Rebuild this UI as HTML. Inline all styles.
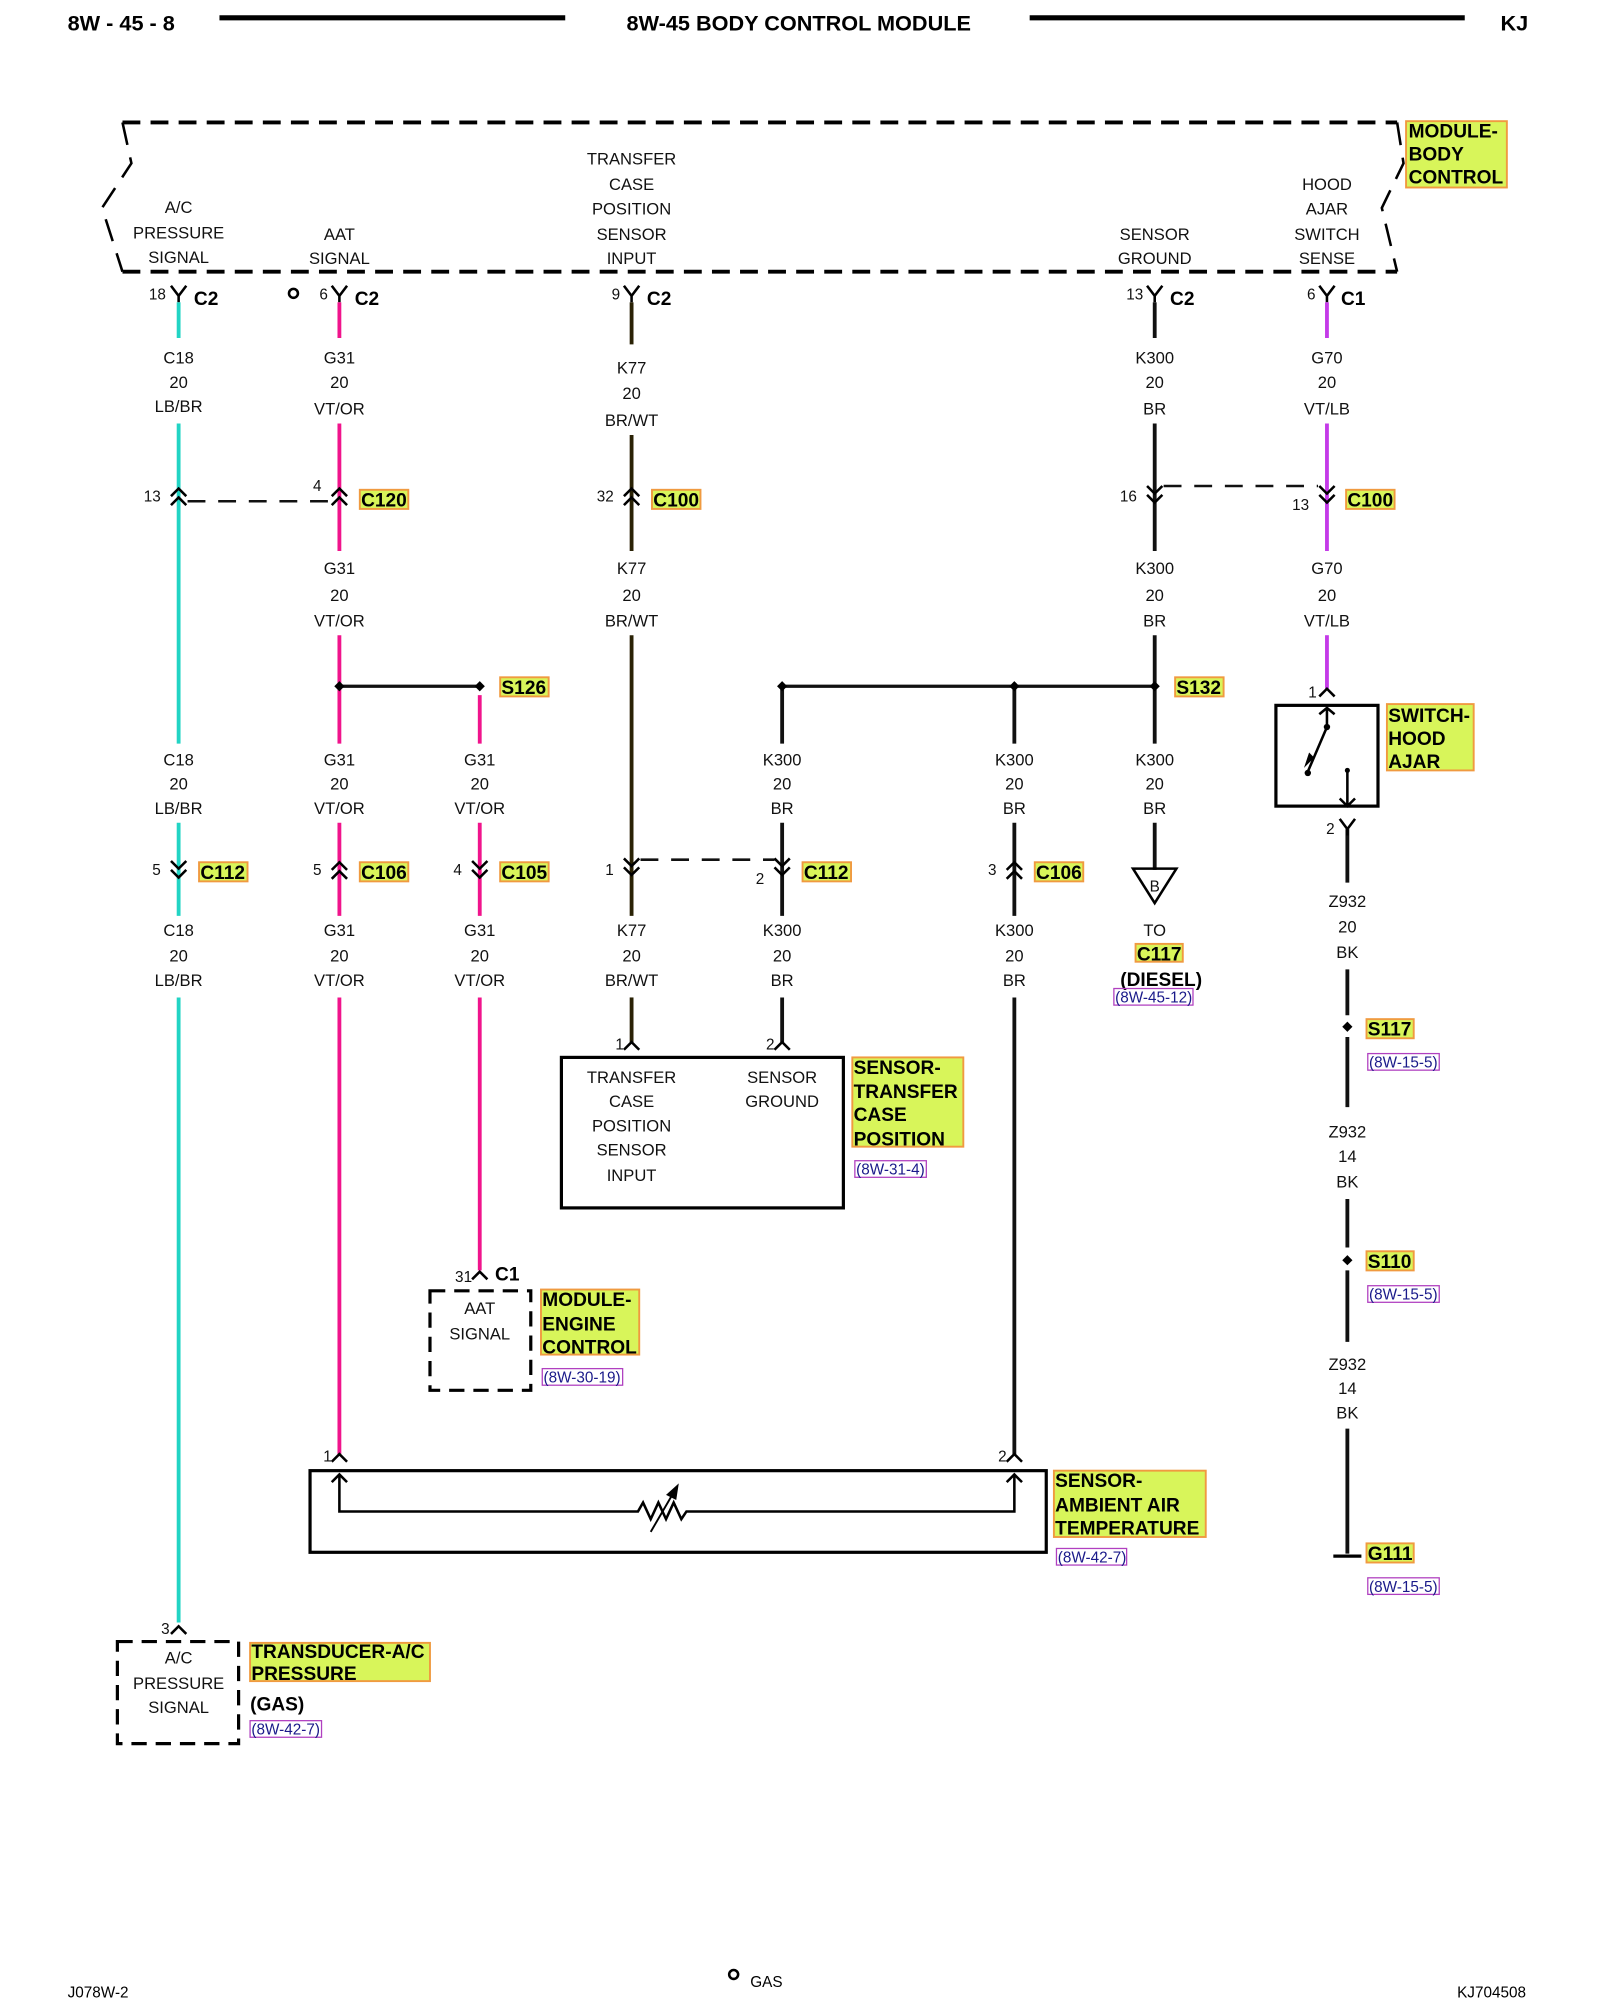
<!DOCTYPE html>
<html><head><meta charset="utf-8"><style>
html,body{margin:0;padding:0;background:#fff;width:1600px;height:2000px;overflow:hidden}
svg text{font-family:"Liberation Sans",sans-serif}
.t{font-size:13px;text-anchor:middle;fill:#111}
.n{font-size:12px;text-anchor:end;fill:#111}
.b{font-size:15px;font-weight:bold;fill:#000}
.g{font-size:15px;font-weight:bold;fill:#000}
.lk{font-size:12px;fill:#1a1a8a}
</style></head><body>
<svg width="1600" height="2000" viewBox="0 0 1254 1568" preserveAspectRatio="none" xmlns="http://www.w3.org/2000/svg">
<defs>
<path id="yf" d="M-6,-7 L0,1 L6,-7 M0,1 V6" fill="none" stroke="#000" stroke-width="2"/>
<path id="u2" d="M-6,-2 L0,-8 L6,-2 M-6,5 L0,-1 L6,5" fill="none" stroke="#000" stroke-width="2"/>
<path id="d2" d="M-6,-5 L0,1 L6,-5 M-6,2 L0,8 L6,2" fill="none" stroke="#000" stroke-width="2"/>
<path id="u1" d="M-6,4 L0,-2 L6,4" fill="none" stroke="#000" stroke-width="2"/>
</defs>
<text x="53" y="24" class="b" style="font-size:17px">8W - 45 - 8</text>
<line x1="172" y1="14" x2="443" y2="14" stroke="#000" stroke-width="4"/>
<text x="626" y="24" class="b" text-anchor="middle" style="font-size:17px">8W-45 BODY CONTROL MODULE</text>
<line x1="807" y1="14" x2="1148" y2="14" stroke="#000" stroke-width="4"/>
<text x="1176" y="24" class="b" style="font-size:17px">KJ</text>

<g fill="none" stroke="#000" stroke-width="3" stroke-dasharray="14,8">
<line x1="96" y1="96" x2="1095" y2="96"/>
<line x1="96" y1="213" x2="1095" y2="213"/>
<polyline points="96,96 103,128 80,163 96,213" stroke-dasharray="18,10" stroke-width="2"/>
<polyline points="1095,96 1100,128 1083,163 1095,213" stroke-dasharray="18,10" stroke-width="2"/>
</g>
<g class="t">
<text x="140" y="167" class="t">A/C</text><text x="140" y="187" class="t">PRESSURE</text><text x="140" y="206" class="t">SIGNAL</text>
<text x="266" y="188" class="t">AAT</text><text x="266" y="207" class="t">SIGNAL</text>
<text x="495" y="129" class="t">TRANSFER</text><text x="495" y="149" class="t">CASE</text><text x="495" y="168" class="t">POSITION</text><text x="495" y="188" class="t">SENSOR</text><text x="495" y="207" class="t">INPUT</text>
<text x="905" y="188" class="t">SENSOR</text><text x="905" y="207" class="t">GROUND</text>
<text x="1040" y="149" class="t">HOOD</text><text x="1040" y="168" class="t">AJAR</text><text x="1040" y="188" class="t">SWITCH</text><text x="1040" y="207" class="t">SENSE</text>
</g>
<rect x="1102" y="95" width="79" height="52" fill="#d8f55a" stroke="#f09a40" stroke-width="1.5"/>
<text x="1104" y="108" class="g">MODULE-</text><text x="1104" y="126" class="g">BODY</text><text x="1104" y="144" class="g">CONTROL</text>

<g>
<use href="#yf" x="140" y="231"/><text x="130" y="235" class="n">18</text><text x="152" y="239" class="g">C2</text>
<circle cx="230" cy="230" r="3.5" fill="none" stroke="#000" stroke-width="2"/>
<use href="#yf" x="266" y="231"/><text x="257" y="235" class="n">6</text><text x="278" y="239" class="g">C2</text>
<use href="#yf" x="495" y="231"/><text x="486" y="235" class="n">9</text><text x="507" y="239" class="g">C2</text>
<use href="#yf" x="905" y="231"/><text x="896" y="235" class="n">13</text><text x="917" y="239" class="g">C2</text>
<use href="#yf" x="1040" y="231"/><text x="1031" y="235" class="n">6</text><text x="1051" y="239" class="g">C1</text>
</g>

<g stroke-width="3" fill="none">
<g stroke="#22d4c4"><line x1="140" y1="237" x2="140" y2="265"/><line x1="140" y1="332" x2="140" y2="583"/><line x1="140" y1="645" x2="140" y2="718"/><line x1="140" y1="782" x2="140" y2="1272"/></g>
<g stroke="#f0148c"><line x1="266" y1="237" x2="266" y2="265"/><line x1="266" y1="332" x2="266" y2="432"/><line x1="266" y1="498" x2="266" y2="583"/><line x1="266" y1="645" x2="266" y2="718"/><line x1="266" y1="782" x2="266" y2="1140"/>
<line x1="376" y1="545" x2="376" y2="583"/><line x1="376" y1="645" x2="376" y2="718"/><line x1="376" y1="782" x2="376" y2="996"/></g>
<g stroke="#2a2205"><line x1="495" y1="237" x2="495" y2="270"/><line x1="495" y1="341" x2="495" y2="432"/><line x1="495" y1="498" x2="495" y2="718"/><line x1="495" y1="782" x2="495" y2="817"/></g>
<g stroke="#111"><line x1="613" y1="538" x2="613" y2="583"/><line x1="613" y1="645" x2="613" y2="718"/><line x1="613" y1="782" x2="613" y2="817"/>
<line x1="795" y1="538" x2="795" y2="583"/><line x1="795" y1="645" x2="795" y2="718"/><line x1="795" y1="782" x2="795" y2="1140"/>
<line x1="905" y1="237" x2="905" y2="265"/><line x1="905" y1="332" x2="905" y2="432"/><line x1="905" y1="498" x2="905" y2="583"/><line x1="905" y1="645" x2="905" y2="682"/>
<line x1="1056" y1="650" x2="1056" y2="692"/><line x1="1056" y1="760" x2="1056" y2="796"/><line x1="1056" y1="813" x2="1056" y2="868"/><line x1="1056" y1="940" x2="1056" y2="978"/><line x1="1056" y1="996" x2="1056" y2="1052"/><line x1="1056" y1="1120" x2="1056" y2="1218"/>
</g>
<g stroke="#c43ae8"><line x1="1040" y1="237" x2="1040" y2="265"/><line x1="1040" y1="332" x2="1040" y2="432"/><line x1="1040" y1="498" x2="1040" y2="540"/></g>
<g stroke="#111" stroke-width="2.5"><line x1="266" y1="538" x2="376" y2="538"/><line x1="613" y1="538" x2="905" y2="538"/></g>
<g stroke="#111" stroke-width="2" stroke-dasharray="14,10"><line x1="147" y1="393" x2="258" y2="393"/><line x1="502" y1="674" x2="607" y2="674"/><line x1="912" y1="381" x2="1033" y2="381"/></g>
</g>
<g fill="#000"><path d="M266,534 l4,4 l-4,4 l-4,-4z"/><path d="M376,534 l4,4 l-4,4 l-4,-4z"/><path d="M613,534 l4,4 l-4,4 l-4,-4z"/><path d="M795,534 l4,4 l-4,4 l-4,-4z"/><path d="M905,534 l4,4 l-4,4 l-4,-4z"/>
<path d="M1056,801 l4,4 l-4,4 l-4,-4z"/><path d="M1056,984 l4,4 l-4,4 l-4,-4z"/></g>

<g class="t">
<text x="140" y="285" class="t">C18</text><text x="140" y="304" class="t">20</text><text x="140" y="323" class="t">LB/BR</text>
<text x="266" y="285" class="t">G31</text><text x="266" y="304" class="t">20</text><text x="266" y="325" class="t">VT/OR</text>
<text x="495" y="293" class="t">K77</text><text x="495" y="313" class="t">20</text><text x="495" y="334" class="t">BR/WT</text>
<text x="905" y="285" class="t">K300</text><text x="905" y="304" class="t">20</text><text x="905" y="325" class="t">BR</text>
<text x="1040" y="285" class="t">G70</text><text x="1040" y="304" class="t">20</text><text x="1040" y="325" class="t">VT/LB</text>

<text x="266" y="450" class="t">G31</text><text x="266" y="471" class="t">20</text><text x="266" y="491" class="t">VT/OR</text>
<text x="495" y="450" class="t">K77</text><text x="495" y="471" class="t">20</text><text x="495" y="491" class="t">BR/WT</text>
<text x="905" y="450" class="t">K300</text><text x="905" y="471" class="t">20</text><text x="905" y="491" class="t">BR</text>
<text x="1040" y="450" class="t">G70</text><text x="1040" y="471" class="t">20</text><text x="1040" y="491" class="t">VT/LB</text>

<text x="140" y="600" class="t">C18</text><text x="140" y="619" class="t">20</text><text x="140" y="638" class="t">LB/BR</text>
<text x="266" y="600" class="t">G31</text><text x="266" y="619" class="t">20</text><text x="266" y="638" class="t">VT/OR</text>
<text x="376" y="600" class="t">G31</text><text x="376" y="619" class="t">20</text><text x="376" y="638" class="t">VT/OR</text>
<text x="613" y="600" class="t">K300</text><text x="613" y="619" class="t">20</text><text x="613" y="638" class="t">BR</text>
<text x="795" y="600" class="t">K300</text><text x="795" y="619" class="t">20</text><text x="795" y="638" class="t">BR</text>
<text x="905" y="600" class="t">K300</text><text x="905" y="619" class="t">20</text><text x="905" y="638" class="t">BR</text>

<text x="140" y="734" class="t">C18</text><text x="140" y="754" class="t">20</text><text x="140" y="773" class="t">LB/BR</text>
<text x="266" y="734" class="t">G31</text><text x="266" y="754" class="t">20</text><text x="266" y="773" class="t">VT/OR</text>
<text x="376" y="734" class="t">G31</text><text x="376" y="754" class="t">20</text><text x="376" y="773" class="t">VT/OR</text>
<text x="495" y="734" class="t">K77</text><text x="495" y="754" class="t">20</text><text x="495" y="773" class="t">BR/WT</text>
<text x="613" y="734" class="t">K300</text><text x="613" y="754" class="t">20</text><text x="613" y="773" class="t">BR</text>
<text x="795" y="734" class="t">K300</text><text x="795" y="754" class="t">20</text><text x="795" y="773" class="t">BR</text>

<text x="1056" y="711" class="t">Z932</text><text x="1056" y="731" class="t">20</text><text x="1056" y="751" class="t">BK</text>
<text x="1056" y="892" class="t">Z932</text><text x="1056" y="911" class="t">14</text><text x="1056" y="931" class="t">BK</text>
<text x="1056" y="1074" class="t">Z932</text><text x="1056" y="1093" class="t">14</text><text x="1056" y="1112" class="t">BK</text>
</g>

<use href="#u2" x="140" y="391"/><text x="126" y="393" class="n">13</text>
<use href="#u2" x="266" y="391"/><text x="252" y="385" class="n">4</text>
<use href="#u2" x="495" y="391"/><text x="481" y="393" class="n">32</text>
<use href="#d2" x="905" y="386"/><text x="891" y="393" class="n">16</text>
<use href="#d2" x="1040" y="386"/><text x="1026" y="400" class="n">13</text>
<use href="#d2" x="140" y="680"/><text x="126" y="686" class="n">5</text>
<use href="#u2" x="266" y="684"/><text x="252" y="686" class="n">5</text>
<use href="#d2" x="376" y="680"/><text x="362" y="686" class="n">4</text>
<use href="#d2" x="495" y="678"/><text x="481" y="686" class="n">1</text>
<use href="#d2" x="613" y="678"/><text x="599" y="693" class="n">2</text>
<use href="#u2" x="795" y="684"/><text x="781" y="686" class="n">3</text>

<g stroke="#f09a40" stroke-width="1.5" fill="#d8f55a">
<rect x="282" y="384" width="38" height="15"/><rect x="511" y="384" width="38" height="15"/><rect x="1055" y="384" width="38" height="15"/>
<rect x="392" y="531" width="38" height="15"/><rect x="921" y="531" width="38" height="15"/>
<rect x="156" y="676" width="38" height="15"/><rect x="282" y="676" width="38" height="15"/><rect x="392" y="676" width="38" height="15"/><rect x="629" y="676" width="38" height="15"/><rect x="811" y="676" width="38" height="15"/>
<rect x="890" y="740" width="37" height="14"/>
<rect x="1071" y="799" width="37" height="15"/><rect x="1071" y="981" width="37" height="15"/><rect x="1071" y="1210" width="37" height="15"/>
<rect x="1087" y="552" width="68" height="52"/>
<rect x="668" y="829" width="87" height="70"/>
<rect x="424" y="1011" width="77" height="51"/>
<rect x="826" y="1153" width="119" height="52"/>
<rect x="196" y="1288" width="141" height="30"/>
</g>
<g class="g">
<text x="283" y="397" class="g">C120</text><text x="512" y="397" class="g">C100</text><text x="1056" y="397" class="g">C100</text>
<text x="393" y="544" class="g">S126</text><text x="922" y="544" class="g">S132</text>
<text x="157" y="689" class="g">C112</text><text x="283" y="689" class="g">C106</text><text x="393" y="689" class="g">C105</text><text x="630" y="689" class="g">C112</text><text x="812" y="689" class="g">C106</text>
<text x="891" y="753" class="g">C117</text>
<text x="1072" y="812" class="g">S117</text><text x="1072" y="994" class="g">S110</text><text x="1072" y="1223" class="g">G111</text>
<text x="1088" y="566" class="g">SWITCH-</text><text x="1088" y="584" class="g">HOOD</text><text x="1088" y="602" class="g">AJAR</text>
<text x="669" y="842" class="g">SENSOR-</text><text x="669" y="861" class="g">TRANSFER</text><text x="669" y="879" class="g">CASE</text><text x="669" y="898" class="g">POSITION</text>
<text x="425" y="1024" class="g">MODULE-</text><text x="425" y="1043" class="g">ENGINE</text><text x="425" y="1061" class="g">CONTROL</text>
<text x="827" y="1166" class="g">SENSOR-</text><text x="827" y="1185" class="g">AMBIENT AIR</text><text x="827" y="1203" class="g">TEMPERATURE</text>
<text x="197" y="1300" class="g">TRANSDUCER-A/C</text><text x="197" y="1317" class="g">PRESSURE</text>
<text x="196" y="1341" class="g">(GAS)</text>
<text x="878" y="773" class="g">(DIESEL)</text>
</g>
<g fill="none" stroke="#b040c0" stroke-width="1">
<rect x="873" y="775" width="62" height="13"/><rect x="670" y="910" width="56" height="13"/><rect x="425" y="1073" width="63" height="13"/>
<rect x="828" y="1214" width="55" height="13"/><rect x="196" y="1349" width="56" height="13"/>
<rect x="1072" y="826" width="56" height="13"/><rect x="1072" y="1008" width="56" height="13"/><rect x="1072" y="1237" width="56" height="13"/>
</g>
<g class="lk">
<text x="874" y="786" class="lk">(8W-45-12)</text><text x="671" y="921" class="lk">(8W-31-4)</text><text x="426" y="1084" class="lk">(8W-30-19)</text>
<text x="829" y="1225" class="lk">(8W-42-7)</text><text x="197" y="1360" class="lk">(8W-42-7)</text>
<text x="1073" y="837" class="lk">(8W-15-5)</text><text x="1073" y="1019" class="lk">(8W-15-5)</text><text x="1073" y="1248" class="lk">(8W-15-5)</text>
</g>

<path d="M888,681 L922,681 L905,708 Z" fill="none" stroke="#000" stroke-width="2"/>
<text x="905" y="699" class="t" style="font-size:12px">B</text>
<text x="905" y="734" class="t">TO</text>

<use href="#u1" x="495" y="819"/><text x="489" y="823" class="n">1</text>
<use href="#u1" x="613" y="819"/><text x="607" y="823" class="n">2</text>
<rect x="440" y="829" width="221" height="118" fill="none" stroke="#000" stroke-width="2.5"/>
<g class="t"><text x="495" y="849" class="t">TRANSFER</text><text x="495" y="868" class="t">CASE</text><text x="495" y="887" class="t">POSITION</text><text x="495" y="906" class="t">SENSOR</text><text x="495" y="926" class="t">INPUT</text>
<text x="613" y="849" class="t">SENSOR</text><text x="613" y="868" class="t">GROUND</text></g>

<use href="#u1" x="376" y="999"/><text x="370" y="1005" class="n">31</text><text x="388" y="1004" class="g">C1</text>
<rect x="337" y="1012" width="79" height="78" fill="none" stroke="#000" stroke-width="2.5" stroke-dasharray="12,7"/>
<text x="376" y="1030" class="t">AAT</text><text x="376" y="1050" class="t">SIGNAL</text>

<use href="#u1" x="266" y="1142"/><text x="260" y="1146" class="n">1</text>
<use href="#u1" x="795" y="1142"/><text x="789" y="1146" class="n">2</text>
<rect x="243" y="1153" width="577" height="64" fill="none" stroke="#000" stroke-width="2.5"/>
<use href="#u1" x="266" y="1158"/><use href="#u1" x="795" y="1158"/>
<polyline points="266,1157 266,1185 500,1185 504,1178 510,1191 516,1178 522,1191 528,1178 534,1191 538,1185 795,1185 795,1157" fill="none" stroke="#000" stroke-width="2"/>
<line x1="510" y1="1201" x2="528" y2="1170" stroke="#000" stroke-width="1.5"/>
<path d="M532,1163 L522,1172 L530,1176 Z" fill="#000"/>

<use href="#u1" x="140" y="1277"/><text x="133" y="1281" class="n">3</text>
<rect x="92" y="1287" width="95" height="80" fill="none" stroke="#000" stroke-width="2.5" stroke-dasharray="12,7"/>
<text x="140" y="1304" class="t">A/C</text><text x="140" y="1324" class="t">PRESSURE</text><text x="140" y="1343" class="t">SIGNAL</text>

<use href="#u1" x="1040" y="542"/><text x="1032" y="547" class="n">1</text>
<rect x="1000" y="553" width="80" height="79" fill="none" stroke="#000" stroke-width="2.5"/>
<g stroke="#000" stroke-width="2" fill="none"><path d="M1034,560 L1040,555 L1046,560 M1040,555 L1040,570 L1025,605"/><path d="M1056,618 L1056,604 M1050,626 L1056,632 L1062,626 M1056,632 L1056,618"/></g>
<circle cx="1040" cy="570" r="2.5" fill="#000"/><circle cx="1025" cy="606" r="2.5" fill="#000"/><circle cx="1056" cy="604" r="2" fill="#000"/>
<path d="M1022,602 L1026,590 L1030,594 Z" fill="#000"/>
<use href="#yf" x="1056" y="649"/><text x="1046" y="654" class="n">2</text>
<line x1="1045" y1="1220" x2="1067" y2="1220" stroke="#000" stroke-width="2.5"/>

<text x="53" y="1566" style="font-size:12px">J078W-2</text>
<circle cx="575" cy="1548" r="3.5" fill="none" stroke="#000" stroke-width="2"/>
<text x="588" y="1558" style="font-size:12px">GAS</text>
<text x="1142" y="1566" style="font-size:12px">KJ704508</text>
</svg>
</body></html>
